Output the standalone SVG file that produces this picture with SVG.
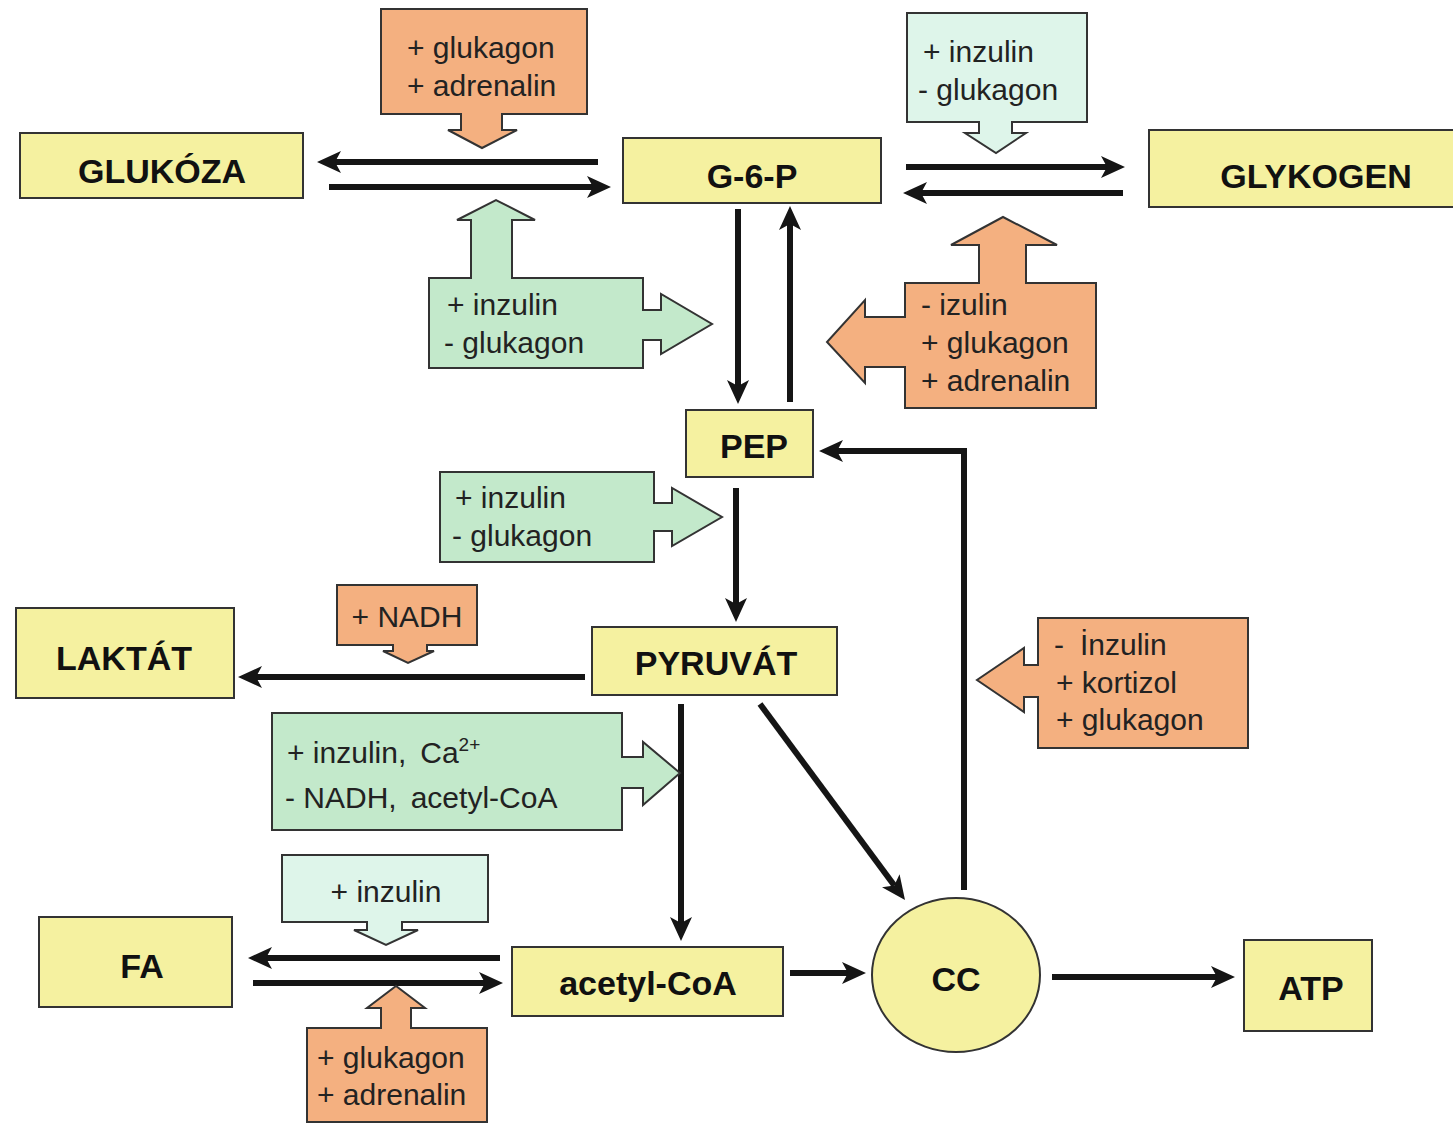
<svg xmlns="http://www.w3.org/2000/svg" width="1453" height="1124" viewBox="0 0 1453 1124">
<style>
.node{fill:#f5f1a0;stroke:#333;stroke-width:2}
.nt{font-family:"Liberation Sans",Arial,sans-serif;font-weight:bold;font-size:34px;fill:#111;text-anchor:middle}
.org{fill:#f4b080;stroke:#333;stroke-width:2;stroke-linejoin:miter}
.grn{fill:#c3e9cb;stroke:#333;stroke-width:2}
.mnt{fill:#def5ea;stroke:#333;stroke-width:2}
.rt{font-family:"Liberation Sans",Arial,sans-serif;font-size:30px;fill:#222}
.c{fill:none;stroke:#151515;stroke-width:6}
</style>
<defs>
<marker id="ah" markerUnits="userSpaceOnUse" viewBox="0 0 24 22" markerWidth="24" markerHeight="22" refX="6" refY="11" orient="auto">
<path d="M0,0 L24,11 L0,22 L6,11 Z" fill="#151515"/>
</marker>
</defs>
<rect width="1453" height="1124" fill="#ffffff"/>

<g id="connectors">
<line class="c" x1="598" y1="162" x2="335" y2="162" marker-end="url(#ah)"/>
<line class="c" x1="329" y1="187" x2="593" y2="187" marker-end="url(#ah)"/>
<line class="c" x1="906" y1="167" x2="1107" y2="167" marker-end="url(#ah)"/>
<line class="c" x1="1123" y1="193" x2="921" y2="193" marker-end="url(#ah)"/>
<line class="c" x1="738" y1="209" x2="738" y2="386" marker-end="url(#ah)"/>
<line class="c" x1="790" y1="402" x2="790" y2="224" marker-end="url(#ah)"/>
<path class="c" d="M964,890 V451 H837" marker-end="url(#ah)"/>
<line class="c" x1="736" y1="488" x2="736" y2="604" marker-end="url(#ah)"/>
<line class="c" x1="585" y1="677" x2="256" y2="677" marker-end="url(#ah)"/>
<line class="c" x1="681" y1="704" x2="681" y2="923" marker-end="url(#ah)"/>
<line class="c" x1="760" y1="704" x2="894.3" y2="885.5" marker-end="url(#ah)"/>
<line class="c" x1="500" y1="958" x2="266" y2="958" marker-end="url(#ah)"/>
<line class="c" x1="253" y1="983" x2="485" y2="983" marker-end="url(#ah)"/>
<line class="c" x1="790" y1="973" x2="848" y2="973" marker-end="url(#ah)"/>
<line class="c" x1="1052" y1="977" x2="1217" y2="977" marker-end="url(#ah)"/>
</g>

<g id="glukoza"><rect class="node" x="20" y="133" width="283" height="65"/><text class="nt" x="162" y="183" font-size="35">GLUKÓZA</text></g>
<g id="g6p"><rect class="node" x="623" y="138" width="258" height="65"/><text class="nt" x="752" y="188">G-6-P</text></g>
<g id="glykogen"><rect class="node" x="1149" y="130" width="310" height="77"/><text class="nt" x="1316" y="188">GLYKOGEN</text></g>
<g id="pep"><rect class="node" x="686" y="410" width="127" height="67"/><text class="nt" x="754" y="458">PEP</text></g>
<g id="pyruvat"><rect class="node" x="592" y="627" width="245" height="68"/><text class="nt" x="716" y="675">PYRUVÁT</text></g>
<g id="laktat"><rect class="node" x="16" y="608" width="218" height="90"/><text class="nt" x="124" y="670">LAKTÁT</text></g>
<g id="fa"><rect class="node" x="39" y="917" width="193" height="90"/><text class="nt" x="142" y="978">FA</text></g>
<g id="acetylcoa"><rect class="node" x="512" y="947" width="271" height="69"/><text class="nt" x="648" y="995">acetyl-CoA</text></g>
<g id="cc"><ellipse class="node" cx="956" cy="975" rx="84" ry="77"/><text class="nt" x="956" y="991">CC</text></g>
<g id="atp"><rect class="node" x="1244" y="940" width="128" height="91"/><text class="nt" x="1311" y="1000">ATP</text></g>

<g id="reg-glukagon-adrenalin-1">
<path class="org" d="M381,9 H587 V114 H502 V130 H517 L482,148 L448,130 H461 V114 H381 Z"/>
<text class="rt" x="407" y="58">+ glukagon</text>
<text class="rt" x="407" y="96">+ adrenalin</text>
</g>
<g id="reg-inzulin-glukagon-1">
<path class="grn" d="M429,278 H471 V220 H457 L496,200 L535,220 H512 V278 H643 V310 H661 V294 L712,324 L661,354 V340 H643 V368 H429 Z"/>
<text class="rt" x="447" y="315">+ inzulin</text>
<text class="rt" x="444" y="353">- glukagon</text>
</g>
<g id="reg-inzulin-glukagon-2">
<path class="mnt" d="M907,13 H1087 V122 H1012 V133 H1026 L996,153 L965,133 H979 V122 H907 Z"/>
<text class="rt" x="923" y="62">+ inzulin</text>
<text class="rt" x="918" y="100">- glukagon</text>
</g>
<g id="reg-izulin-glukagon-adrenalin">
<path class="org" d="M905,283 H979 V245 H951 L1003,217 L1057,245 H1026 V283 H1096 V408 H905 V367 H865 V383 L827,342 L865,300 V317 H905 Z"/>
<text class="rt" x="921" y="315">- izulin</text>
<text class="rt" x="921" y="353">+ glukagon</text>
<text class="rt" x="921" y="391">+ adrenalin</text>
</g>
<g id="reg-inzulin-glukagon-3">
<path class="grn" d="M440,472 H654 V503 H672 V488 L722,517 L672,546 V531 H654 V562 H440 Z"/>
<text class="rt" x="455" y="508">+ inzulin</text>
<text class="rt" x="452" y="546">- glukagon</text>
</g>
<g id="reg-nadh">
<path class="org" d="M337,585 H477 V645 H427 V651 H434 L408,663 L383,651 H393 V645 H337 Z"/>
<text class="rt" x="407" y="627" text-anchor="middle">+ NADH</text>
</g>
<g id="reg-pdh">
<path class="grn" d="M272,713 H622 V757 H643 V742 L680,773 L643,805 V788 H622 V830 H272 Z"/>
<text class="rt" x="287" y="763">+ inzulin,<tspan dx="14">Ca</tspan><tspan font-size="19" dy="-12">2+</tspan></text>
<text class="rt" x="285" y="808">- NADH,<tspan dx="14">acetyl-CoA</tspan></text>
</g>
<g id="reg-kortizol">
<path class="org" d="M1038,618 H1248 V748 H1038 V697 H1024 V712 L977,680 L1024,648 V665 H1038 Z"/>
<text class="rt" x="1054" y="655">-<tspan dx="16">İnzulin</tspan></text>
<text class="rt" x="1056" y="693">+ kortizol</text>
<text class="rt" x="1056" y="730">+ glukagon</text>
</g>
<g id="reg-inzulin-fa">
<path class="mnt" d="M282,855 H488 V922 H402 V930 H418 L386,945 L354,930 H367 V922 H282 Z"/>
<text class="rt" x="386" y="902" text-anchor="middle">+ inzulin</text>
</g>
<g id="reg-glukagon-adrenalin-2">
<path class="org" d="M307,1028 H381 V1008 H367 L396,986 L425,1008 H411 V1028 H487 V1122 H307 Z"/>
<text class="rt" x="317" y="1068">+ glukagon</text>
<text class="rt" x="317" y="1105">+ adrenalin</text>
</g>
</svg>
